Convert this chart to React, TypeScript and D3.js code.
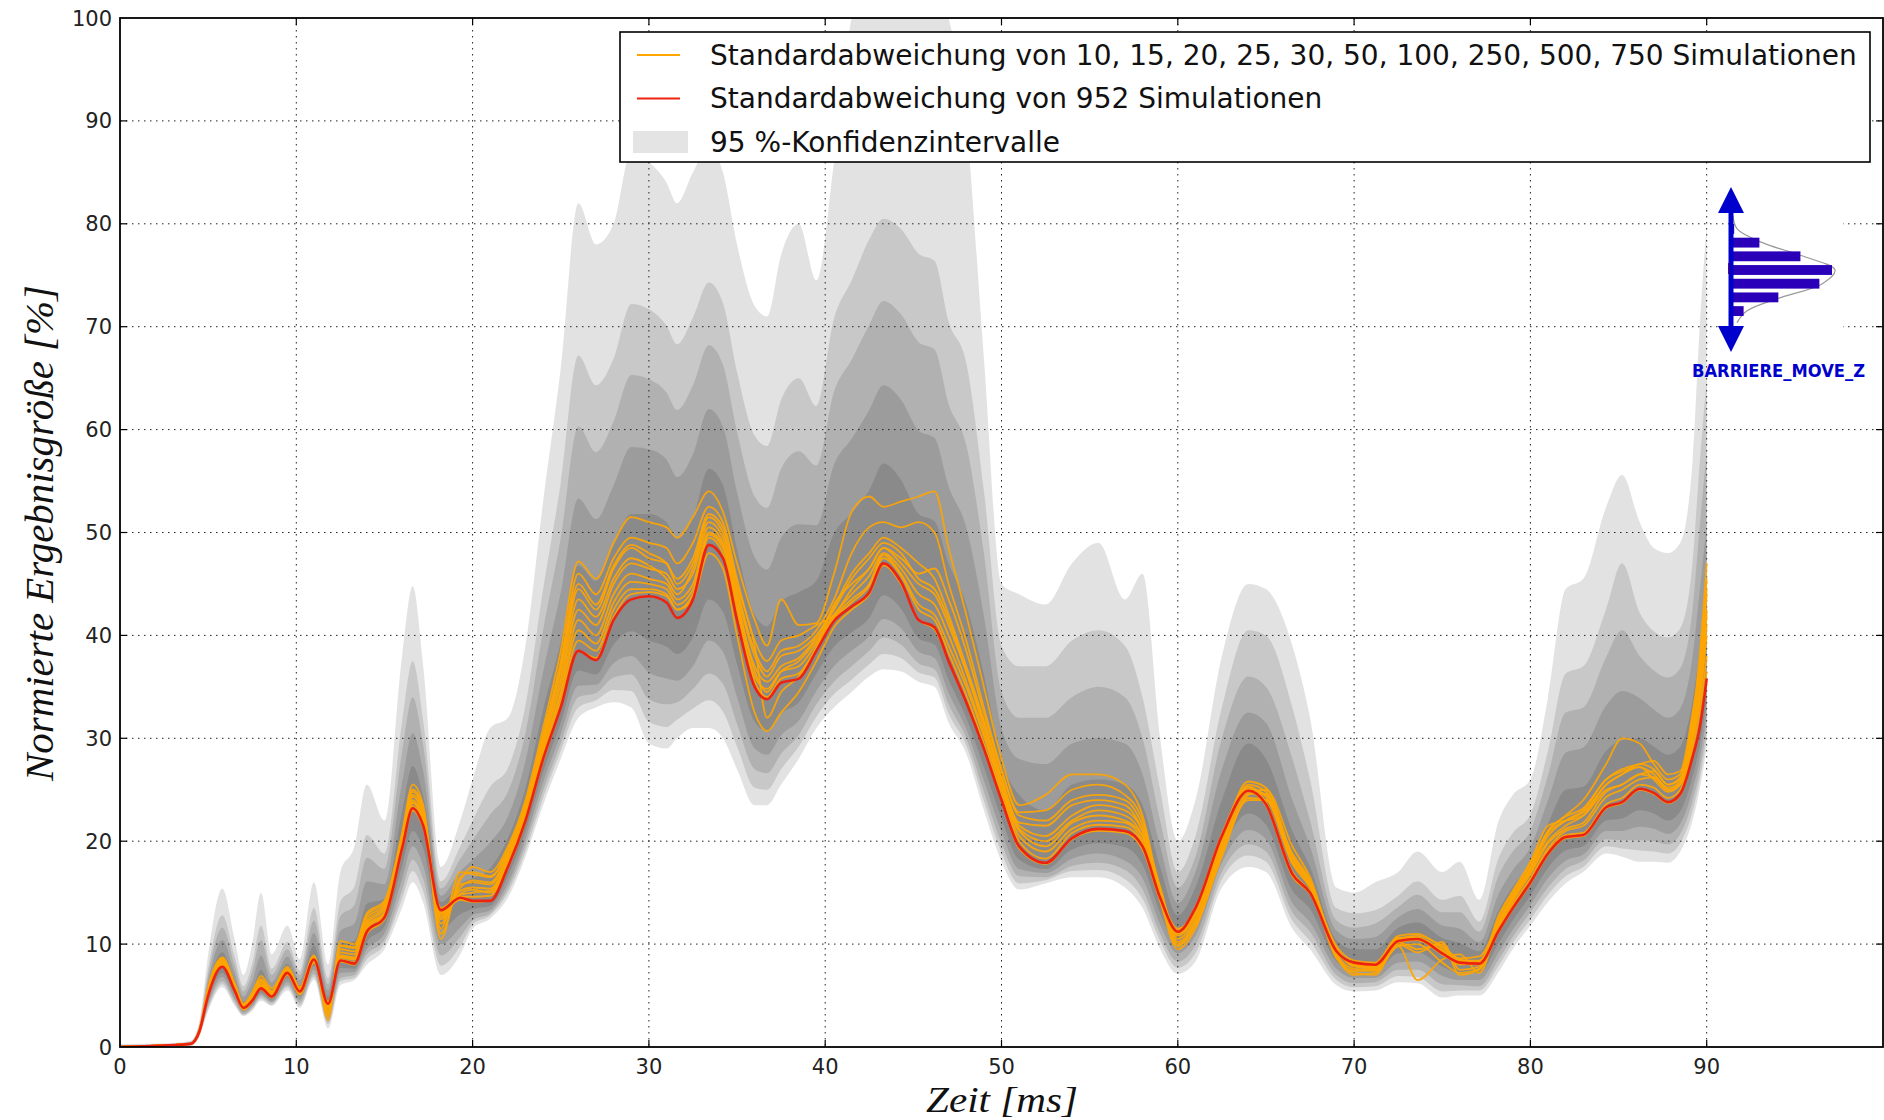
import React, { useMemo } from "react";
import * as d3 from "d3";

// Zeitachse in ms (feiner dort, wo die Kurven schnell schwanken)
const zeit = [
  0, 3, 4, 4.5, 5, 5.8, 6.5, 7, 7.5, 8,
  8.6, 9.5, 10.2, 11, 11.8, 12.5, 13.3, 14, 15, 16,
  16.6, 17.2, 18.2, 19.3, 20, 21, 22, 23, 24, 25,
  26, 27, 28, 29, 30, 31, 31.6, 32.5, 33.4, 34.2,
  35, 36, 36.7, 37.5, 38.5, 39.5, 40.5, 41.5, 42.5, 43.3,
  44.3, 45.3, 46.2, 47, 48, 49, 50, 51, 52.5, 54,
  55.5, 57, 58, 59, 60, 61, 62.5, 64, 65, 66.5,
  67.5, 69, 70, 71.2, 72.5, 73.6, 75, 76, 77.1, 78.2,
  79, 80, 81, 82, 83, 84.3, 85.2, 86.2, 87, 87.8,
  88.5, 89.2, 89.6, 90,
];

// Standardabweichung von 952 Simulationen (rot)
const std952 = [
  0, 0.2, 0.3, 1.5, 5, 7.8, 5.5, 3.8, 4.5, 5.7,
  4.9, 7.2, 5.4, 8.5, 4.2, 8.4, 8.1, 11.2, 12.6, 19.3,
  23.2, 21.5, 13.3, 14.5, 14.2, 14.2, 17.5, 22, 28, 33,
  38.5, 37.6, 41.5, 43.5, 43.8, 43.2, 41.7, 43.5, 48.8, 47.5,
  41.5, 35, 33.8, 35.4, 35.8, 38.5, 41.4, 42.8, 44.2, 47,
  45.2, 41.5, 40.8, 37.5, 33.5, 29, 24, 19.5, 17.9, 20.3,
  21.2, 21, 19.5, 14.5, 11.2, 13.5, 20.5, 24.9, 23.6, 16.8,
  15, 9.3, 8.2, 8, 10.3, 10.5, 9.1, 8.2, 8.1, 11.3,
  13.5, 16, 18.8, 20.4, 20.6, 23.3, 23.8, 25.1, 24.7, 23.8,
  24.6, 28.2, 31, 35.8,
];

// Standardabweichungen der kleineren Stichproben (orange)
const std10 = [
  0, 0.2, 0.3, 1.5, 5.6, 8.6, 6.0, 4.0, 5.0, 6.6,
  5.4, 7.6, 5.6, 8.7, 3.2, 9.8, 9.6, 12.5, 13.8, 20.3,
  24.8, 23.0, 12.0, 16.2, 17.5, 17.0, 19.5, 24.0, 31.0, 38.5,
  47.2, 45.5, 49.0, 51.5, 51.0, 50.5, 49.5, 51.5, 54.0, 52.0,
  47.0, 41.5, 39.0, 43.5, 41.0, 41.2, 46.0, 52.0, 53.5, 52.5,
  53.0, 53.5, 54.0, 48.5, 42.0, 35.0, 28.0, 23.5, 24.5, 26.5,
  26.5, 25.5, 22.5, 15.0, 10.0, 11.8, 18.5, 24.5, 25.0, 19.5,
  16.5, 9.0, 7.2, 7.0, 10.2, 9.5, 10.0, 7.0, 7.5, 12.5,
  15.0, 17.8, 21.0, 22.5, 24.0, 27.5, 30.0, 29.5, 27.5, 26.0,
  26.5, 32.0, 38.0, 47.0,
];
const std15 = [
  0, 0.2, 0.3, 1.7, 5.8, 8.7, 6.2, 4.2, 5.3, 6.9,
  5.7, 7.8, 5.8, 8.9, 2.6, 10.3, 10.0, 13.0, 14.2, 20.8,
  25.5, 23.5, 11.5, 17.0, 16.8, 16.5, 19.2, 23.6, 30.4, 37.5,
  46.0, 44.0, 47.5, 49.5, 49.0, 48.5, 47.0, 49.0, 52.5, 51.0,
  45.5, 39.5, 37.5, 39.5, 40.0, 41.0, 42.0, 44.5, 46.5, 48.5,
  47.5, 46.0, 46.5, 43.5, 38.5, 32.5, 26.8, 22.8, 23.0, 25.0,
  25.5, 24.5, 22.0, 14.8, 9.8, 12.0, 19.0, 24.2, 24.0, 18.8,
  16.2, 8.8, 7.0, 7.2, 9.8, 6.5, 8.5, 9.0, 7.2, 12.0,
  14.5, 17.2, 20.5, 22.0, 23.0, 26.0, 27.0, 27.5, 27.8, 26.5,
  26.8, 32.5, 37.0, 45.5,
];
const std20 = [
  0, 0.2, 0.3, 1.6, 5.3, 8.3, 5.8, 3.9, 4.8, 6.2,
  5.2, 7.4, 5.5, 8.6, 3.6, 9.2, 9.0, 12.0, 13.4, 20.0,
  24.3, 22.5, 12.6, 15.5, 16.2, 16.0, 18.8, 23.2, 29.8, 36.5,
  44.5, 42.5, 46.5, 48.5, 47.5, 47.0, 45.0, 47.0, 51.5, 50.0,
  44.5, 38.5, 36.5, 38.5, 39.0, 40.5, 43.5, 48.0, 50.5, 51.0,
  50.5, 51.0, 50.0, 45.0, 39.5, 33.0, 27.0, 22.5, 22.0, 24.0,
  24.5, 24.0, 21.5, 15.5, 10.5, 12.5, 19.5, 25.5, 24.8, 18.5,
  16.0, 9.6, 7.8, 7.6, 10.6, 10.6, 9.3, 8.0, 8.3, 11.8,
  14.2, 17.0, 20.0, 21.5, 22.5, 25.5, 26.5, 27.5, 27.0, 25.5,
  26.0, 31.0, 36.0, 44.0,
];
const std25 = [
  0, 0.2, 0.3, 1.6, 5.5, 8.5, 6.1, 4.0, 4.9, 6.5,
  5.4, 7.6, 5.6, 8.7, 3.0, 9.9, 9.7, 12.8, 14.0, 20.5,
  25.0, 23.2, 10.5, 16.5, 17.0, 16.6, 19.0, 23.4, 30.0, 37.0,
  45.0, 43.0, 46.8, 48.8, 48.0, 47.0, 45.5, 47.5, 51.8, 50.5,
  45.0, 39.0, 32.0, 34.5, 36.0, 38.8, 43.0, 45.0, 46.5, 48.5,
  47.0, 45.0, 44.0, 41.0, 36.5, 31.0, 25.6, 21.2, 20.0, 22.0,
  23.0, 22.5, 20.5, 14.2, 9.5, 11.5, 18.8, 24.0, 24.0, 18.0,
  15.6, 9.0, 7.6, 7.5, 10.0, 9.2, 10.2, 7.5, 7.8, 12.8,
  15.2, 18.0, 21.5, 22.0, 22.5, 25.0, 25.5, 26.5, 26.2, 25.0,
  25.6, 30.2, 34.5, 42.0,
];
const std30 = [
  0, 0.2, 0.3, 1.4, 5.4, 8.4, 5.9, 4.1, 5.0, 6.4,
  5.3, 7.5, 5.7, 8.8, 3.4, 9.5, 9.3, 12.2, 13.6, 20.1,
  24.5, 22.7, 11.0, 15.8, 16.0, 15.8, 18.6, 23.0, 29.5, 35.8,
  43.5, 41.8, 45.5, 47.5, 46.8, 45.5, 44.0, 46.5, 51.0, 49.5,
  44.0, 38.0, 36.0, 38.0, 38.5, 40.0, 42.8, 46.0, 48.0, 49.5,
  48.5, 47.0, 45.5, 42.0, 37.0, 31.8, 26.2, 21.8, 21.5, 23.5,
  24.0, 23.5, 21.0, 15.5, 10.2, 12.2, 19.2, 24.6, 24.6, 18.3,
  15.8, 8.6, 7.4, 7.4, 9.8, 10.0, 8.2, 7.2, 7.6, 11.9,
  14.3, 16.8, 19.8, 21.2, 21.8, 24.8, 25.5, 26.5, 26.8, 25.5,
  26.2, 31.5, 36.5, 44.5,
];
const std50 = [
  0, 0.2, 0.3, 1.4, 5.1, 8.0, 5.6, 3.8, 4.6, 5.9,
  5.0, 7.2, 5.3, 8.4, 4.0, 8.7, 8.5, 11.5, 12.9, 19.6,
  23.7, 21.9, 13.0, 14.8, 15.0, 15.2, 18.0, 22.5, 28.8, 34.5,
  41.5, 40.0, 44.0, 46.0, 45.5, 45.0, 43.5, 45.0, 50.0, 48.8,
  43.0, 37.0, 35.5, 37.0, 37.8, 39.8, 42.5, 45.5, 47.5, 49.0,
  48.0, 45.5, 44.5, 41.5, 36.5, 31.5, 26.0, 21.5, 20.5, 22.5,
  23.5, 23.0, 21.0, 15.2, 11.0, 13.0, 20.0, 25.2, 24.3, 17.8,
  15.5, 9.4, 8.0, 7.8, 10.5, 10.8, 9.8, 8.5, 8.2, 11.6,
  13.9, 16.4, 19.3, 21.0, 21.5, 24.3, 25.0, 26.0, 26.2, 25.0,
  25.5, 30.0, 34.0, 41.0,
];
const std100 = [
  0, 0.2, 0.3, 1.5, 5.2, 8.2, 5.7, 3.9, 4.7, 6.0,
  5.1, 7.3, 5.5, 8.5, 3.8, 8.9, 8.7, 11.8, 13.1, 19.8,
  24.0, 22.2, 12.8, 15.2, 15.5, 15.4, 18.3, 22.8, 29.2, 35.2,
  42.5, 41.0, 45.0, 47.0, 46.5, 46.0, 44.5, 46.0, 50.5, 49.0,
  43.5, 36.5, 34.5, 36.5, 37.5, 39.5, 42.0, 44.0, 45.8, 48.0,
  46.5, 44.0, 43.0, 40.0, 35.5, 30.5, 25.3, 21.0, 19.5, 21.8,
  22.5, 22.0, 20.5, 15.0, 10.8, 12.8, 19.8, 25.0, 24.5, 18.0,
  15.6, 9.8, 8.4, 8.2, 10.8, 11.0, 9.6, 8.6, 8.8, 12.2,
  14.8, 17.5, 20.8, 22.0, 22.8, 25.5, 26.5, 27.2, 26.5, 25.2,
  25.8, 30.5, 35.0, 42.5,
];
const std250 = [
  0, 0.2, 0.3, 1.5, 5.0, 8.1, 5.6, 3.8, 4.6, 6.0,
  5.0, 7.2, 5.4, 8.5, 3.9, 8.8, 8.6, 11.6, 13.0, 19.7,
  23.8, 22.0, 12.4, 14.9, 15.3, 15.0, 18.0, 22.4, 28.6, 34.2,
  40.5, 39.2, 43.2, 45.2, 45.0, 44.5, 43.0, 44.5, 49.8, 48.5,
  42.8, 36.0, 34.8, 36.5, 37.0, 39.2, 41.8, 43.5, 45.0, 47.8,
  46.0, 43.0, 42.0, 39.0, 35.0, 30.2, 25.0, 20.5, 19.0, 21.2,
  22.0, 21.8, 20.0, 14.8, 11.5, 13.2, 20.2, 25.8, 25.2, 18.6,
  16.0, 9.5, 7.9, 7.7, 10.6, 10.4, 9.4, 8.4, 8.4, 12.0,
  14.6, 17.4, 21.0, 22.4, 23.2, 26.0, 26.8, 27.2, 26.0, 24.8,
  25.5, 29.5, 33.5, 40.0,
];
const std500 = [
  0, 0.2, 0.3, 1.6, 4.9, 7.9, 5.4, 3.7, 4.5, 5.8,
  4.9, 7.1, 5.2, 8.3, 4.3, 8.5, 8.2, 11.3, 12.7, 19.4,
  23.4, 21.6, 13.5, 14.6, 14.6, 14.7, 17.8, 22.2, 28.3, 33.6,
  39.5, 38.5, 42.5, 44.5, 44.5, 44.0, 42.5, 44.0, 49.5, 48.0,
  42.2, 35.5, 34.0, 35.8, 36.3, 38.8, 41.6, 43.2, 44.8, 47.5,
  45.8, 42.5, 41.5, 38.3, 34.2, 29.5, 24.6, 20.0, 18.3, 20.8,
  21.6, 21.4, 19.8, 14.6, 11.3, 13.6, 20.7, 25.3, 23.8, 17.0,
  15.1, 9.4, 8.2, 8.1, 10.4, 10.6, 9.2, 8.3, 8.2, 11.4,
  13.7, 16.2, 19.0, 20.6, 20.8, 23.6, 24.2, 25.5, 25.2, 24.2,
  25.0, 29.0, 32.5, 38.0,
];
const std750 = [
  0, 0.2, 0.3, 1.5, 5.2, 8.0, 5.5, 3.6, 4.4, 5.6,
  4.8, 7.0, 5.1, 8.2, 4.4, 8.3, 8.0, 11.0, 12.4, 19.1,
  23.0, 21.3, 13.1, 14.3, 14.1, 14.2, 17.4, 21.9, 27.8, 33.0,
  38.5, 37.8, 41.8, 44.0, 44.2, 43.8, 42.5, 43.5, 48.0, 46.5,
  40.0, 32.5, 30.7, 32.5, 34.5, 37.5, 40.8, 42.5, 44.0, 46.8,
  45.0, 41.5, 40.6, 37.5, 33.5, 29.0, 24.0, 19.3, 17.8, 20.2,
  21.0, 20.8, 19.2, 14.3, 11.0, 13.4, 20.4, 24.8, 23.5, 16.6,
  14.9, 9.2, 8.1, 7.9, 10.2, 10.4, 9.0, 8.1, 8.0, 11.2,
  13.4, 15.9, 18.7, 20.3, 20.5, 23.2, 23.7, 25.0, 24.6, 23.7,
  24.5, 28.3, 31.2, 36.5,
];

// 95 %-Konfidenzintervalle, von aussen (hell) nach innen
const kiOben1 = [
  0.3, 0.4, 0.6, 2.5, 9, 15.4, 10.5, 7, 10, 15,
  9, 11.8, 8.5, 16, 8, 17, 19.5, 25.5, 22, 38,
  44.8, 37, 17.5, 22, 26, 31, 32, 39, 53, 66,
  82, 78, 80, 87, 86, 84, 82, 85, 87.5, 85,
  78, 72, 71, 77, 80, 74.5, 86, 100, 104, 105,
  105, 105, 104, 100, 90, 67, 45, 44, 43, 47,
  49, 43.5, 46, 30, 20, 24, 38, 45, 44.5, 39,
  32, 15.5, 15, 16, 17, 19, 17, 18, 14.3, 22,
  24.5, 26, 34, 44.5, 45.5, 52.5, 55.6, 51, 48.5, 48,
  49, 57, 70, 80,
];
const kiUnten1 = [
  0, 0.1, 0.1, 1, 3.5, 5.8, 4, 3, 3.5, 4.5,
  4, 5.5, 3.8, 6.5, 1.8, 6, 6.5, 8, 9.5, 13.5,
  16, 14, 7, 9, 11.5, 12.5, 14.5, 18.5, 23.5, 28,
  32, 33, 33.5, 33, 29.5, 29, 30, 31, 31, 30,
  27, 23.5, 23.5, 25.5, 28, 31, 33, 34.5, 36, 36.7,
  36.5, 35.5, 35, 31.5, 28.5, 23, 18, 15.3, 15.9, 16.5,
  16.5, 15.5, 13.5, 9.5, 7.1, 8.3, 15.5, 17.5, 17, 11.5,
  9.5, 6, 5.4, 5.5, 6.3, 6.2, 4.8, 5, 5, 7.3,
  9.5, 11.8, 14.1, 15.9, 17, 18.8, 18.5, 18, 18, 17.9,
  19, 22, 25, 29,
];
const kiOben2 = [
  0.2, 0.3, 0.5, 2.2, 7.6, 12.8, 8.8, 5.9, 8.1, 11.8,
  7.6, 10.2, 7.4, 13.5, 6.7, 14.1, 15.6, 20.6, 18.8, 31.6,
  37.5, 31.7, 16.1, 19.5, 22, 25.3, 27.1, 33.2, 44.5, 54.8,
  67.2, 64.3, 66.9, 72.2, 71.7, 70.1, 68.3, 70.9, 74.3, 72.3,
  65.6, 59.4, 58.4, 62.9, 65, 62.3, 70.8, 74.5, 78.5, 80.5,
  79.5, 77.1, 76.4, 70.5, 66.5, 54.1, 39, 37, 37, 39.5,
  40.5, 39, 34, 25, 17, 20.5, 33, 40.5, 40, 33,
  26, 13.5, 13, 13.3, 14.7, 16.1, 14.3, 14.7, 12.2, 18.4,
  20.8, 22.6, 28.8, 36.3, 37, 42.6, 47, 42.2, 40.4, 39.8,
  40.7, 47.2, 56.7, 65,
];
const kiUnten2 = [
  0, 0.1, 0.1, 1.1, 3.7, 6.1, 4.2, 3.1, 3.7, 4.7,
  4.1, 5.8, 4, 6.8, 2.2, 6.4, 6.7, 8.5, 10, 14.4,
  17.1, 15.1, 7.9, 9.8, 11.9, 12.8, 15, 19, 24.2, 28.8,
  33, 33.7, 34.7, 34.6, 31.6, 31.1, 31.8, 32.9, 33.7, 32.6,
  29.2, 25.2, 25, 27, 29.2, 32.1, 34.3, 35.7, 37.2, 38.2,
  37.8, 36.4, 35.9, 32.4, 29.3, 23.9, 18.9, 15.9, 16.2, 17.1,
  17.2, 16.3, 14.4, 10.3, 7.7, 9.1, 16.3, 18.6, 18, 12.3,
  10.3, 6.5, 5.8, 5.9, 6.9, 6.8, 5.4, 5.5, 5.5, 7.9,
  10.1, 12.4, 14.8, 16.6, 17.5, 19.5, 19.3, 19.1, 19, 18.8,
  19.8, 22.9, 25.9, 30,
];
const kiOben3 = [
  0.2, 0.3, 0.5, 2, 7, 11.6, 8, 5.4, 7.3, 10.4,
  7, 9.5, 7, 12.3, 6.1, 12.7, 13.8, 18.4, 17.3, 28.7,
  34, 29.3, 15.4, 18.3, 20.1, 22.6, 24.8, 30.5, 40.5, 49.5,
  60.3, 57.8, 60.8, 65.3, 64.9, 63.6, 61.9, 64.3, 68.2, 66.3,
  59.8, 53.5, 52.4, 56.2, 57.9, 56.5, 63.7, 66.8, 70.2, 72.5,
  71.2, 68.5, 67.8, 62.5, 58.5, 48, 34.5, 32, 32, 34,
  35, 34, 30, 22, 15.5, 18.5, 30, 36, 35, 28,
  22, 12.3, 11.6, 12, 13.6, 14.8, 13.1, 13.1, 11.2, 16.7,
  19, 21, 26.4, 32.5, 33, 37.9, 40.5, 38, 36.6, 35.9,
  36.8, 42.6, 50.5, 58,
];
const kiUnten3 = [
  0, 0.1, 0.2, 1.2, 4, 6.4, 4.5, 3.2, 3.8, 4.9,
  4.3, 6, 4.3, 7.1, 2.5, 6.7, 7, 9, 10.4, 15.2,
  18.2, 16.3, 8.9, 10.7, 12.3, 13, 15.4, 19.6, 24.9, 29.5,
  34, 34.4, 35.9, 36.2, 33.8, 33.3, 33.5, 34.8, 36.3, 35.3,
  31.4, 27, 26.6, 28.5, 30.3, 33.3, 35.5, 37, 38.5, 39.8,
  39.1, 37.3, 36.7, 33.3, 30, 24.8, 19.8, 16.6, 16.5, 17.6,
  17.9, 17.2, 15.3, 11, 8.3, 9.9, 17, 19.7, 19, 13.1,
  11.2, 7, 6.2, 6.3, 7.5, 7.5, 6.1, 6, 5.9, 8.5,
  10.7, 13.1, 15.5, 17.3, 18.1, 20.2, 20.1, 20.1, 20, 19.7,
  20.7, 23.9, 26.8, 31,
];
const kiOben4 = [
  0.1, 0.3, 0.4, 1.8, 6.4, 10.4, 7.2, 4.9, 6.4, 8.9,
  6.3, 8.8, 6.5, 11.1, 5.5, 11.3, 12, 16.1, 15.8, 25.7,
  30.5, 26.8, 14.7, 17.1, 18.2, 19.9, 22.4, 27.8, 36.5, 44.2,
  53.3, 51.3, 54.6, 58.3, 58.1, 57.1, 55.4, 57.6, 62, 60.3,
  53.9, 47.6, 46.4, 49.5, 50.8, 50.7, 56.6, 59.1, 61.9, 64.3,
  62.9, 59.9, 59.2, 54.5, 50.5, 41.9, 31, 28, 27.5, 29.5,
  30, 29.5, 26.5, 19.5, 14, 17, 27, 32.5, 31.5, 24,
  19.5, 11.3, 10.5, 10.7, 12.6, 13.4, 11.8, 11.5, 10.2, 14.9,
  17.2, 19.4, 24, 28.6, 29.1, 33.2, 34.6, 33.9, 32.8, 32,
  32.9, 38, 44.3, 50.8,
];
const kiUnten4 = [
  0, 0.1, 0.2, 1.2, 4.2, 6.8, 4.7, 3.4, 4, 5.1,
  4.4, 6.3, 4.6, 7.5, 2.9, 7.2, 7.3, 9.5, 11, 16.3,
  19.5, 17.6, 10, 11.6, 12.8, 13.3, 15.9, 20.2, 25.7, 30.4,
  35.1, 35.2, 37.3, 38, 36.4, 35.8, 35.6, 37, 39.5, 38.4,
  34, 29, 28.4, 30.3, 31.7, 34.6, 37, 38.5, 39.9, 41.6,
  40.7, 38.4, 37.8, 34.4, 30.9, 25.9, 20.9, 17.3, 16.9, 18.3,
  18.8, 18.1, 16.4, 11.9, 9.1, 10.8, 17.9, 21.1, 20.2, 14,
  12.1, 7.6, 6.7, 6.7, 8.2, 8.3, 6.9, 6.5, 6.5, 9.2,
  11.4, 13.8, 16.4, 18.1, 18.7, 21, 21, 21.4, 21.2, 20.7,
  21.7, 25, 27.9, 32.3,
];
const kiOben5 = [
  0.1, 0.2, 0.4, 1.7, 5.8, 9.2, 6.5, 4.4, 5.5, 7.5,
  5.7, 8.1, 6, 9.9, 4.9, 10, 10.3, 13.9, 14.4, 22.9,
  27.3, 24.4, 14.1, 15.9, 16.4, 17.4, 20.3, 25.2, 32.8, 39.3,
  46.8, 45.3, 48.8, 51.8, 51.8, 51, 49.4, 51.4, 56.2, 54.6,
  48.4, 42, 40.9, 43.3, 44.2, 45.3, 49.9, 51.9, 54.1, 56.7,
  55.1, 51.8, 51.1, 47, 43, 36.2, 28, 24.5, 23, 25.5,
  26, 25.5, 23.5, 17.5, 12.8, 15.5, 24, 29.5, 28, 21,
  17.5, 10.4, 9.5, 9.5, 11.6, 12.1, 10.6, 10.1, 9.3, 13.3,
  15.6, 17.9, 21.7, 25, 25.3, 28.8, 29.8, 30, 29.2, 28.4,
  29.2, 33.7, 38.4, 44.2,
];
const kiUnten5 = [
  0, 0.2, 0.2, 1.4, 4.6, 7.2, 5.1, 3.6, 4.2, 5.3,
  4.6, 6.7, 4.9, 7.9, 3.5, 7.7, 7.6, 10.2, 11.7, 17.6,
  21, 19.3, 11.4, 12.9, 13.4, 13.7, 16.6, 21, 26.7, 31.5,
  36.6, 36.2, 39.1, 40.4, 39.5, 38.9, 38.2, 39.8, 43.5, 42.3,
  37.2, 31.6, 30.7, 32.4, 33.5, 36.3, 38.9, 40.3, 41.7, 43.9,
  42.6, 39.7, 39.1, 35.7, 32, 27.2, 22.2, 18.2, 17.3, 19.2,
  19.8, 19.4, 17.7, 13, 10, 11.9, 19, 22.7, 21.6, 15.2,
  13.4, 8.3, 7.4, 7.3, 9.1, 9.2, 7.8, 7.2, 7.2, 10.1,
  12.3, 14.7, 17.4, 19.1, 19.5, 22, 22.2, 23, 22.7, 22,
  22.9, 26.3, 29.2, 33.8,
];

// kleines Histogramm oben rechts
const histWerte = [1, 9, 22, 32, 28, 15, 4];

const xTicks = [0, 10, 20, 30, 40, 50, 60, 70, 80, 90];
const yTicks = [0, 10, 20, 30, 40, 50, 60, 70, 80, 90, 100];

const legendeTexte = [
  "Standardabweichung von 10, 15, 20, 25, 30, 50, 100, 250, 500, 750 Simulationen",
  "Standardabweichung von 952 Simulationen",
  "95 %-Konfidenzintervalle",
];

const W = 1884;
const H = 1120;
const LINKS = 120;
const RECHTS = 1883;
const OBEN = 18;
const UNTEN = 1047;

const ORANGE = "#ffa500";
const ROT = "#ee2211";
const BLAU = "#0000cc";

const orangeReihen = [std10, std15, std20, std25, std30, std50, std100, std250, std500, std750];
const baender = [
  { oben: kiOben1, unten: kiUnten1 },
  { oben: kiOben2, unten: kiUnten2 },
  { oben: kiOben3, unten: kiUnten3 },
  { oben: kiOben4, unten: kiUnten4 },
  { oben: kiOben5, unten: kiUnten5 },
];

export default function App() {
  const x = useMemo(() => d3.scaleLinear().domain([0, 100]).range([LINKS, RECHTS]), []);
  const y = useMemo(() => d3.scaleLinear().domain([0, 100]).range([UNTEN, OBEN]), []);

  const linie = d3
    .line<number>()
    .x((_, i) => x(zeit[i]))
    .y((d) => y(d))
    .curve(d3.curveMonotoneX);

  const flaechen = baender.map((b) =>
    d3
      .area<number>()
      .x((_, i) => x(zeit[i]))
      .y0((_, i) => y(b.unten[i]))
      .y1((d) => y(d))
      .curve(d3.curveMonotoneX)(b.oben)
  );

  // Histogramm
  const hy = d3
    .scaleBand<number>()
    .domain(d3.range(histWerte.length))
    .range([224, 316])
    .paddingInner(0.28);
  const hx = d3.scaleLinear().domain([0, 32]).range([1731, 1832]);
  const schritt = hy.step();
  const kurvenPunkte: [number, number][] = [
    [hx(0) + 2, (hy(0) as number) - schritt * 0.6],
    ...histWerte.map((v, i) => [hx(v) + 3, (hy(i) as number) + hy.bandwidth() / 2] as [number, number]),
    [hx(0) + 6, (hy(histWerte.length - 1) as number) + schritt * 1.2],
  ];
  const glocke = d3.line().curve(d3.curveCatmullRom)(kurvenPunkte);

  const tickLen = 7;

  return (
    <svg
      width={W}
      height={H}
      style={{ position: "absolute", left: 0, top: 0, display: "block", background: "#fff" }}
      fontFamily="'DejaVu Sans', sans-serif"
    >
      <defs>
        <clipPath id="plotClip">
          <rect x={LINKS} y={OBEN} width={RECHTS - LINKS} height={UNTEN - OBEN} />
        </clipPath>
      </defs>

      <g clipPath="url(#plotClip)">
        <g className="baender">
          {flaechen.map((d, i) => (
            <path key={i} d={d ?? ""} fill="#000" fillOpacity={0.112} stroke="none" />
          ))}
        </g>

        <g className="gitter" stroke="#222" strokeWidth={1} strokeDasharray="1.5 4.5">
          {xTicks.slice(1).map((t) => (
            <line key={"gx" + t} x1={x(t)} x2={x(t)} y1={OBEN} y2={UNTEN} />
          ))}
          {yTicks.slice(1, -1).map((t) => (
            <line key={"gy" + t} x1={LINKS} x2={RECHTS} y1={y(t)} y2={y(t)} />
          ))}
        </g>

        <g className="orange" fill="none" stroke={ORANGE} strokeWidth={1.8} strokeOpacity={0.9}>
          {orangeReihen.map((r, i) => (
            <path key={i} d={linie(r) ?? ""} />
          ))}
        </g>
        <path d={linie(std952) ?? ""} fill="none" stroke={ROT} strokeWidth={2.6} />
      </g>

      {/* Achsenrahmen und Ticks */}
      <rect
        x={LINKS}
        y={OBEN}
        width={RECHTS - LINKS}
        height={UNTEN - OBEN}
        fill="none"
        stroke="#000"
        strokeWidth={1.8}
      />
      <g stroke="#000" strokeWidth={1.2}>
        {xTicks.slice(1).map((t) => (
          <g key={"tx" + t}>
            <line x1={x(t)} x2={x(t)} y1={UNTEN} y2={UNTEN - tickLen} />
            <line x1={x(t)} x2={x(t)} y1={OBEN} y2={OBEN + tickLen} />
          </g>
        ))}
        {yTicks.slice(1, -1).map((t) => (
          <g key={"ty" + t}>
            <line x1={LINKS} x2={LINKS + tickLen} y1={y(t)} y2={y(t)} />
            <line x1={RECHTS} x2={RECHTS - tickLen} y1={y(t)} y2={y(t)} />
          </g>
        ))}
      </g>

      <g fontSize={21} fill="#222">
        {xTicks.map((t) => (
          <text key={"lx" + t} x={x(t)} y={UNTEN + 27} textAnchor="middle">
            {t}
          </text>
        ))}
        {yTicks.map((t) => (
          <text key={"ly" + t} x={LINKS - 8} y={y(t)} dy="0.36em" textAnchor="end">
            {t}
          </text>
        ))}
      </g>

      {/* Achsentitel */}
      <text
        x={1002}
        y={1112}
        textAnchor="middle"
        fontFamily="'Liberation Serif', serif"
        fontStyle="italic"
        fontSize={36}
        fill="#111"
        textLength={152}
        lengthAdjust="spacingAndGlyphs"
      >
        Zeit [ms]
      </text>
      <text
        transform="translate(53,533) rotate(-90)"
        textAnchor="middle"
        fontFamily="'Liberation Serif', serif"
        fontStyle="italic"
        fontSize={40}
        fill="#111"
        textLength={496}
        lengthAdjust="spacingAndGlyphs"
      >
        Normierte Ergebnisgröße [%]
      </text>

      {/* Legende */}
      <g className="legende">
        <rect x={620} y={32} width={1250} height={130} fill="#fff" stroke="#000" strokeWidth={1.6} />
        <line x1={637} x2={680} y1={55} y2={55} stroke={ORANGE} strokeWidth={1.8} />
        <line x1={637} x2={680} y1={98.5} y2={98.5} stroke={ROT} strokeWidth={1.8} />
        <rect x={633} y={131} width={55} height={22} fill="#e4e4e4" />
        {legendeTexte.map((t, i) => (
          <text key={i} x={710} y={55 + i * 43.3} dy="0.36em" fontSize={28} fill="#111">
            {t}
          </text>
        ))}
      </g>

      {/* Histogramm-Einsatz */}
      <g className="einsatz">
        <rect x={1733} y={195} width={110} height={138} fill="#fff" />
        <path d={glocke ?? ""} fill="none" stroke="#999" strokeWidth={1.2} />
        {histWerte.map((v, i) => (
          <rect
            key={i}
            x={hx(0)}
            y={hy(i)}
            width={hx(v) - hx(0)}
            height={hy.bandwidth()}
            fill="#2a00b8"
          />
        ))}
        <rect x={1728} y={263} width={3} height={11} fill="#e00000" />
        <line x1={1731} x2={1731} y1={210} y2={330} stroke={BLAU} strokeWidth={5} />
        <polygon points="1731,187 1718,213 1744,213" fill={BLAU} />
        <polygon points="1731,352 1718,326 1744,326" fill={BLAU} />
        <text
          x={1692}
          y={377}
          fontSize={17}
          fontWeight="bold"
          fill={BLAU}
          textLength={173}
          lengthAdjust="spacingAndGlyphs"
        >
          BARRIERE_MOVE_Z
        </text>
      </g>
    </svg>
  );
}
